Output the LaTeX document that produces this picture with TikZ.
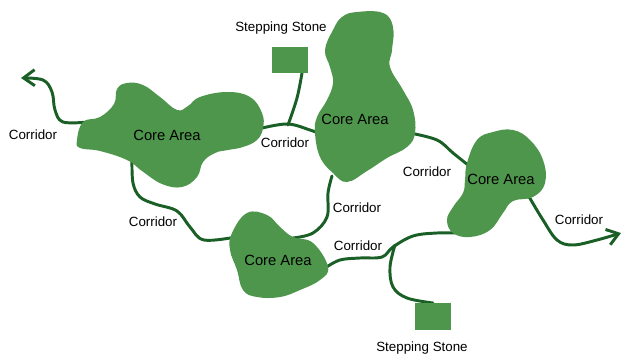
\documentclass[tikz,border=0pt]{standalone}
\usepackage{fontspec}
\setmainfont{Liberation Sans}
\usetikzlibrary{arrows.meta}

\definecolor{coregreen}{RGB}{78,150,76}
\definecolor{pathgreen}{RGB}{26,96,38}

\tikzset{
  core/.style={fill=coregreen, draw=none},
  stone/.style={fill=coregreen, draw=none},
  corridor/.style={draw=pathgreen, line width=2.1pt, line cap=round},
  lbl/.style={font=\fontsize{9.5}{11}\selectfont, inner sep=1pt},
  corelbl/.style={font=\fontsize{10.5}{12}\selectfont, inner sep=1pt}
}

\begin{document}
\begin{tikzpicture}[x=0.025cm, y=-0.025cm]
\useasboundingbox (0,0) rectangle (622,354);

% corridors (drawn first, blobs on top)
\coordinate (endW) at (21,78);
\coordinate (endE) at (621,233);
\coordinate (stoneN) at (302,73);
\coordinate (stoneS) at (433,303);

\draw[corridor, -{Straight Barb[length=2.8mm, width=4mm]}]
  plot[smooth, tension=0.6] coordinates {(88,122) (63,122) (55,110) (52,92) (43,80) (endW)};
\draw[corridor]
  plot[smooth, tension=0.6] coordinates {(132,160) (133,183) (140,197) (155,204) (177,211) (190,227) (204,240) (236,237)};
\draw[corridor]
  plot[smooth, tension=0.6] coordinates {(258,129) (287,124) (310,130) (320,134)};
\draw[corridor]
  plot[smooth, tension=0.6] coordinates {(288,125) (297,98) (stoneN)};
\draw[corridor]
  plot[smooth, tension=0.6] coordinates {(332,176) (328,193) (327,217) (313,233) (293,238)};
\draw[corridor]
  plot[smooth, tension=0.6] coordinates {(410,133) (437,140) (453,153) (468,165)};
\draw[corridor]
  plot[smooth, tension=0.6] coordinates {(325,268) (340,260) (360,258) (382,257) (393,247) (413,236) (437,233) (462,233)};
\draw[corridor]
  plot[smooth, tension=0.6] coordinates {(395,245) (390,267) (393,287) (407,298) (stoneS)};
\draw[corridor, -{Straight Barb[length=2.8mm, width=4mm]}]
  plot[smooth, tension=0.6] coordinates {(528,195) (543,220) (557,240) (573,245) (597,240) (endE)};

% core areas
\fill[core] plot[smooth cycle, tension=0.7] coordinates {
  (77,140) (83,122) (100,117) (114,104) (117,89) (127,83) (143,85) (160,97)
  (177,110) (188,106) (200,97) (227,92) (250,97) (262,113) (263,128) (257,140)
  (243,147) (228,150) (215,153) (203,162) (197,177) (182,187) (162,184)
  (142,171) (127,160) (100,151) (80,148)};
\fill[core] plot[smooth cycle, tension=0.7] coordinates {
  (325,50) (333,30) (342,17) (357,12) (383,13) (393,27) (392,50) (390,67)
  (403,90) (413,110) (415,133) (407,147) (387,158) (367,171) (347,182)
  (333,173) (320,157) (315,133) (317,117) (327,100) (333,83) (330,67)};
\fill[core] plot[smooth cycle, tension=0.7] coordinates {
  (467,163) (477,140) (493,132) (513,130) (530,140) (543,160) (545,183)
  (533,197) (513,201) (503,213) (490,230) (470,237) (453,233) (447,220)
  (453,207) (463,193) (465,180)};
\fill[core] plot[smooth cycle, tension=0.7] coordinates {
  (232,233) (247,213) (267,215) (280,227) (293,237) (313,243) (328,267)
  (320,280) (300,290) (280,297) (257,297) (243,290) (237,270) (230,250)};

% stepping stones
\fill[stone] (272,47) rectangle (308,73);
\fill[stone] (415,303) rectangle (451,330);

% labels
\node[corelbl] (coreW) at (167,135) {Core Area};
\node[corelbl] (coreN) at (355,119) {Core Area};
\node[corelbl] (coreE) at (501,179) {Core Area};
\node[corelbl] (coreS) at (278,260) {Core Area};

\node[lbl] (stoneNlbl) at (281,28) {Stepping Stone};
\node[lbl] (stoneSlbl) at (422,348) {Stepping Stone};

\node[lbl] (corW) at (33,135) {Corridor};
\node[lbl] (corSW) at (153,222) {Corridor};
\node[lbl] (corN) at (285,143) {Corridor};
\node[lbl] (corC) at (357,208) {Corridor};
\node[lbl] (corNE) at (427,172) {Corridor};
\node[lbl] (corS) at (358,246) {Corridor};
\node[lbl] (corE) at (579,220) {Corridor};

\end{tikzpicture}
\end{document}
